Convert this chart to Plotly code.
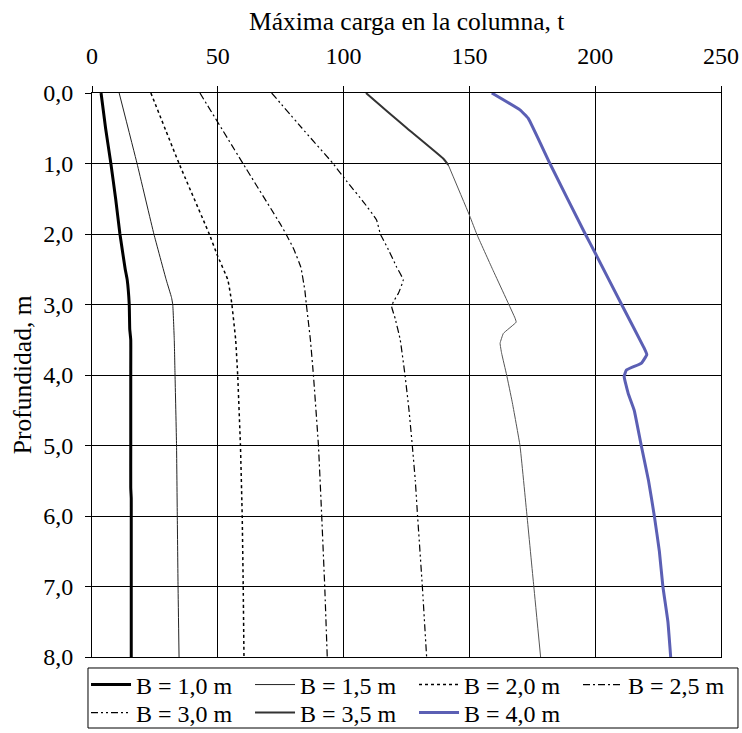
import plotly.graph_objects as go

# ---- data (depth in m, load in t) ----
d_b10 = [0, 0.5, 1, 1.5, 2, 2.5, 2.65, 3.0, 3.35, 3.5, 4, 5, 5.6, 5.75, 6, 7, 8]
l_b10 = [3.6, 5.4, 7.5, 9.4, 11.1, 13.2, 14.0, 14.8, 15.0, 15.4, 15.4, 15.4, 15.4, 15.6, 15.6, 15.6, 15.6]

d_b15 = [0, 1, 2, 2.65, 2.9, 3.0, 3.5, 4, 5, 6, 7, 8]
l_b15 = [10.8, 17.9, 24.6, 29.5, 31.6, 32.1, 32.7, 33.0, 33.6, 33.9, 34.2, 34.6]

d_b20 = [0, 1, 2, 2.3, 2.65, 2.85, 3.0, 3.5, 4, 5, 6, 7, 8]
l_b20 = [23.4, 34.6, 46.6, 49.8, 54.0, 55.0, 55.6, 57.1, 57.9, 59.0, 59.7, 60.1, 60.4]

d_b25 = [0, 1, 1.85, 2.0, 2.2, 2.47, 2.8, 3.0, 3.5, 4, 5, 6, 7, 8]
l_b25 = [42.9, 60.0, 74.7, 77.1, 80.0, 83.0, 84.6, 85.2, 86.8, 88.0, 90.0, 91.3, 92.5, 93.5]

d_b30 = [0, 0.5, 1, 1.25, 1.55, 1.8, 2.0, 2.2, 2.47, 2.65, 2.84, 2.96, 3.03, 3.2, 3.5, 4, 4.5, 5, 5.5, 6, 7, 8]
l_b30 = [71.4, 83.5, 95.8, 101.2, 108.0, 113.1, 114.6, 117.5, 121.1, 123.7, 121.8, 119.8, 119.1, 120.5, 122.5, 124.4, 126.0, 127.3, 128.5, 129.4, 131.3, 133.0]

d_b35_top = [0, 0.265, 0.5, 0.93, 1.02]
l_b35_top = [108.9, 117.5, 125.2, 139.6, 141.6]
d_b35 = [1.02, 1.75, 2.0, 2.5, 3.19, 3.25, 3.41, 3.55, 3.69, 4.0, 4.38, 5, 6, 7, 8]
l_b35 = [141.6, 150.2, 152.9, 159.2, 168.1, 168.6, 163.5, 162.2, 162.8, 164.8, 167.0, 170.1, 172.9, 175.6, 178.3]

d_b40 = [0, 0.24, 0.36, 1.0, 1.99, 2.27, 3.0, 3.6, 3.71, 3.83, 3.93, 4.02, 4.26, 4.5, 5, 5.5, 6, 6.5, 7, 7.5, 8]
l_b40 = [158.9, 170.1, 173.4, 182.0, 195.9, 200.0, 210.5, 219.2, 220.5, 218.4, 212.4, 211.5, 213.1, 215.5, 218.3, 221.2, 223.5, 225.5, 226.9, 228.9, 230.0]

names = ["B = 1,0 m", "B = 1,5 m", "B = 2,0 m", "B = 2,5 m", "B = 3,0 m", "B = 3,5 m", "B = 4,0 m"]
x_ticks = [0, 50, 100, 150, 200, 250]
y_ticks = [0, 1, 2, 3, 4, 5, 6, 7, 8]
y_ticktext = ["0,0", "1,0", "2,0", "3,0", "4,0", "5,0", "6,0", "7,0", "8,0"]

FONT = "Liberation Serif"
FS = 24
FS_T = 25.5
FS_L = 24

fig = go.Figure()

def add(x, y, name, color, width, dash, legend="legend", showlegend=True):
    fig.add_trace(go.Scatter(x=x, y=y, mode="lines", name=name, showlegend=showlegend, legend=legend,
                             line=dict(color=color, width=width, dash=dash, shape="spline", smoothing=0.3)))

add(l_b10, d_b10, names[0], "#000000", 3, "solid")
add(l_b15, d_b15, names[1], "#222222", 1, "solid")
add(l_b20, d_b20, names[2], "#000000", 1.5, "dot")
add(l_b25, d_b25, names[3], "#000000", 1.2, "7px,3px,2px,3px")
add(l_b30, d_b30, names[4], "#000000", 1.2, "7px,3px,2px,3px,2px,3px", legend="legend2")
add(l_b35_top, d_b35_top, names[5], "#333333", 2, "solid", legend="legend2")
add(l_b35, d_b35, names[5], "#555555", 1, "solid", legend="legend2", showlegend=False)
add(l_b40, d_b40, names[6], "#5B5FB4", 3, "solid", legend="legend2")

leg_common = dict(orientation="h", x=-0.0095, xanchor="left", yanchor="middle",
                  bgcolor="rgba(0,0,0,0)", borderwidth=0, font=dict(family=FONT, size=FS_L),
                  itemwidth=40, entrywidth=109, tracegroupgap=0)

fig.update_layout(
    width=742, height=733,
    margin=dict(l=92, r=21, t=93, b=76, autoexpand=False),
    paper_bgcolor="white", plot_bgcolor="white",
    font=dict(family=FONT, size=FS, color="black"),
    showlegend=True,
    legend=dict(y=-0.0496, **leg_common),
    legend2=dict(y=-0.0993, **leg_common),
    xaxis=dict(side="top", range=[0, 250], tickvals=x_ticks, ticktext=[str(v) for v in x_ticks],
               showgrid=True, gridcolor="black", gridwidth=1, automargin=False,
               showline=True, linecolor="black", linewidth=1, mirror=True,
               ticks="outside", ticklen=6, tickcolor="black", zeroline=False,
               ticklabelstandoff=12,
               tickfont=dict(family=FONT, size=FS)),
    yaxis=dict(range=[8, 0], tickvals=y_ticks, ticktext=y_ticktext,
               showgrid=True, gridcolor="black", gridwidth=1, automargin=False,
               showline=True, linecolor="black", linewidth=1, mirror=True,
               ticks="outside", ticklen=6, tickcolor="black", zeroline=False,
               ticklabelstandoff=7,
               tickfont=dict(family=FONT, size=FS)),
    shapes=[dict(type="rect", xref="paper", yref="paper",
                 x0=-0.00636, x1=1.027, y0=-0.1259, y1=-0.0195,
                 line=dict(color="black", width=1), fillcolor="rgba(0,0,0,0)")],
    annotations=[
        dict(text="Máxima carga en la columna, t", xref="paper", yref="paper",
             x=0.5, y=1.126, xanchor="center", yanchor="middle", showarrow=False,
             font=dict(family=FONT, size=FS_T)),
        dict(text="Profundidad, m", xref="paper", yref="paper", textangle=-90,
             x=-0.111, y=0.5, xanchor="center", yanchor="middle", showarrow=False,
             font=dict(family=FONT, size=FS_T)),
    ],
)

fig.write_html("out.html", config={"displayModeBar": False},
               post_script="document.body.style.margin='0';")
